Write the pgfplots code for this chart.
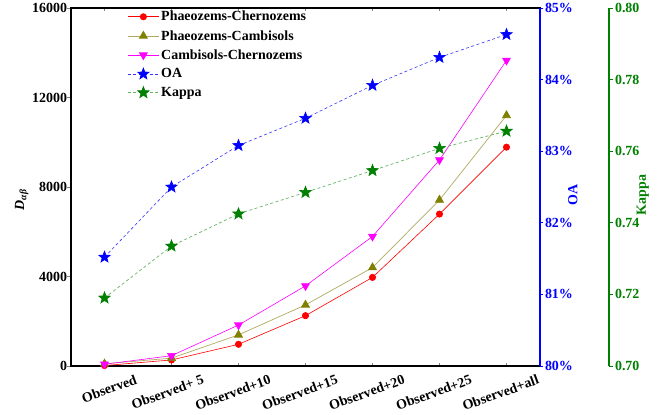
\documentclass[border=0pt]{standalone}
\usepackage{pgfplots}
\pgfplotsset{compat=1.18}
\usepackage{fontspec}
\setmainfont{Liberation Serif}
\usetikzlibrary{plotmarks}
\definecolor{oablue}{RGB}{0,0,255}
\definecolor{kgreen}{RGB}{0,128,0}
\definecolor{olivem}{RGB}{128,128,0}
\definecolor{olivel}{RGB}{175,170,95}
\definecolor{magen}{RGB}{255,0,255}
\pgfdeclareplotmark{fstar}{%
  \pgfpathmoveto{\pgfpointpolar{90}{\pgfplotmarksize}}%
  \pgfpathlineto{\pgfpointpolar{126}{0.42\pgfplotmarksize}}%
  \pgfpathlineto{\pgfpointpolar{162}{\pgfplotmarksize}}%
  \pgfpathlineto{\pgfpointpolar{198}{0.42\pgfplotmarksize}}%
  \pgfpathlineto{\pgfpointpolar{234}{\pgfplotmarksize}}%
  \pgfpathlineto{\pgfpointpolar{270}{0.42\pgfplotmarksize}}%
  \pgfpathlineto{\pgfpointpolar{306}{\pgfplotmarksize}}%
  \pgfpathlineto{\pgfpointpolar{342}{0.42\pgfplotmarksize}}%
  \pgfpathlineto{\pgfpointpolar{18}{\pgfplotmarksize}}%
  \pgfpathlineto{\pgfpointpolar{54}{0.42\pgfplotmarksize}}%
  \pgfpathclose\pgfusepathqfillstroke}
\newcommand{\lf}{\fontsize{14}{16}\selectfont\bfseries}
\pgfplotsset{
  base/.style={scale only axis, height=358bp, ymin=0,
    /pgf/number format/assume math mode=true,
    tick label style={font=\lf},
    label style={font=\lf},
    major tick length=3.5bp,
    clip=false},
}
\begin{document}
\begin{tikzpicture}
\begin{axis}[base, name=main, width=469bp,
  xmin=-0.5, xmax=6.5, ymin=0, ymax=16000,
  axis line style={line width=1.1bp},
  xtick={0,...,6},
  xticklabels={Observed,Observed+ 5,Observed+10,Observed+15,Observed+20,Observed+25,Observed+all},
  xtick pos=both, xtick align=inside,
  xticklabel style={xshift=32bp, yshift=-4bp, rotate=20, anchor=north east},
  ytick={0,4000,8000,12000,16000},
  ytick pos=left, ytick align=outside,
  scaled y ticks=false,
  yticklabel style={/pgf/number format/set thousands separator={}, xshift=3bp},
  ylabel={\textit{D}\textsubscript{\textit{αβ}}},
  ylabel style={at={(axis description cs:-0.105,0.464)}, anchor=center},
  legend style={at={(rel axis cs:0.118,1.0)}, anchor=north west, draw=none, fill=none,
    font=\lf, row sep=4bp, inner sep=1bp},
  legend cell align=left,
  legend image code/.code={\draw[mark repeat=2,mark phase=2,#1] plot coordinates {(0bp,0bp) (15.5bp,0bp) (31bp,0bp)};},
]
\addplot[red, line width=0.6bp, mark=*, mark size=3.2bp, mark options={solid, fill=red, draw=red}]
  coordinates {(0,20) (1,270) (2,970) (3,2250) (4,3960) (5,6790) (6,9780)};
\addlegendentry{Phaeozems-Chernozems}
\addplot[olivel, line width=0.7bp, mark=triangle*, mark size=4.6bp, mark options={solid, fill=olivem, draw=olivem}]
  coordinates {(0,100) (1,350) (2,1390) (3,2730) (4,4400) (5,7420) (6,11200)};
\addlegendentry{Phaeozems-Cambisols}
\addplot[magen, line width=0.6bp, mark=triangle*, mark size=4.6bp, mark options={solid, fill=magen, draw=magen, rotate=180}]
  coordinates {(0,80) (1,460) (2,1830) (3,3580) (4,5790) (5,9210) (6,13660)};
\addlegendentry{Cambisols-Chernozems}
\addlegendimage{oablue!80, line width=0.6bp, dash pattern=on 3bp off 2.5bp, mark=fstar, mark size=6bp, mark options={solid, fill=oablue, draw=oablue}}
\addlegendentry{OA}
\addlegendimage{kgreen!60, line width=0.7bp, dash pattern=on 3bp off 2.5bp, mark=fstar, mark size=6bp, mark options={solid, fill=kgreen, draw=kgreen}}
\addlegendentry{Kappa}
\end{axis}
\begin{axis}[base, at={(main.south west)}, anchor=south west, width=469bp,
  xmin=-0.5, xmax=6.5, ymin=80, ymax=85,
  axis x line=none, axis y line*=right,
  y axis line style={oablue, line width=1.1bp},
  ytick={80,81,82,83,84,85}, ytick align=outside,
  ytick style={oablue, line width=0.9bp},
  yticklabel={\pgfmathprintnumber{\tick}\%},
  yticklabel style={oablue, xshift=-2bp},
  ylabel={OA}, ylabel style={oablue, at={(axis description cs:1.070,0.478)}, anchor=center},
]
\addplot[oablue!80, line width=0.6bp, dash pattern=on 3bp off 2.5bp, mark=fstar, mark size=6bp, mark options={solid, fill=oablue, draw=oablue}]
  coordinates {(0,81.52) (1,82.50) (2,83.08) (3,83.46) (4,83.92) (5,84.31) (6,84.63)};
\end{axis}
\begin{axis}[base, at={(main.south west)}, anchor=south west, width=538bp,
  xmin=-0.5, xmax=7.52985, ymin=0.70, ymax=0.80,
  axis x line=none, axis y line*=right,
  y axis line style={kgreen, line width=1.1bp},
  ytick={0.70,0.72,0.74,0.76,0.78,0.80}, ytick align=outside,
  ytick style={kgreen, line width=0.9bp},
  yticklabel style={kgreen, /pgf/number format/fixed, /pgf/number format/precision=2, /pgf/number format/fixed zerofill, xshift=-1bp},
  ylabel={Kappa}, ylabel style={kgreen, at={(axis description cs:1.063,0.478)}, anchor=center},
]
\addplot[kgreen!60, line width=0.7bp, dash pattern=on 3bp off 2.5bp, mark=fstar, mark size=6bp, mark options={solid, fill=kgreen, draw=kgreen}]
  coordinates {(0,0.719) (1,0.7335) (2,0.7425) (3,0.7485) (4,0.7546) (5,0.7608) (6,0.7656)};
\end{axis}
\pgfresetboundingbox
\path[use as bounding box] (main.south west) ++(-71bp,-49bp) rectangle ++(666bp,415bp);
\end{tikzpicture}
\end{document}
